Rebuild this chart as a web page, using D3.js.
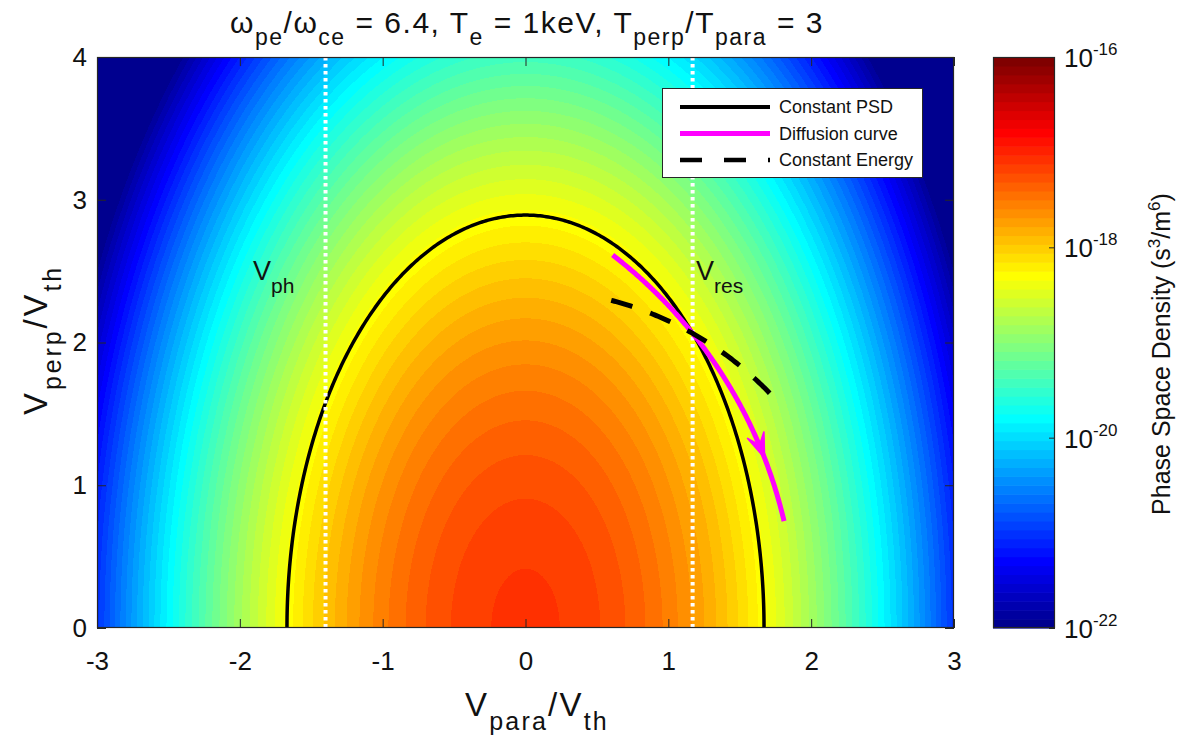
<!DOCTYPE html>
<html>
<head>
<meta charset="utf-8">
<script src="https://cdn.jsdelivr.net/npm/d3@7"></script>
<style>
  html, body { margin: 0; padding: 0; background: #fff; }
  svg { display: block; font-family: "Liberation Sans", Arial, Helvetica, sans-serif; }
</style>
</head>
<body>
<svg id="chart" width="1186" height="742"></svg>
<script>
// ---- axis ticks and ranges ----
const xTicks = [-3, -2, -1, 0, 1, 2, 3];
const yTicks = [0, 1, 2, 3, 4];
const xDomain = [-3, 3];
const yDomain = [0, 4];

// ---- colour bar (log10 of phase space density, s^3/m^6) ----
const psdLogRange = [-22, -16];
const psdTickExponents = [-16, -18, -20, -22];

// ---- bi-Maxwellian distribution parameters ----
const psdPeakLog10 = -17.1;   // log10 f at v = 0
const thetaPara = 1.0;        // parallel thermal width (units of V_th)
const tempAnisotropy = 3;     // T_perp / T_para

// ---- resonance geometry ----
const vPhase = -1.40;              // wave phase velocity
const vResonance = 1.17;           // resonant parallel velocity
const psdContourVpara = 1.67;      // constant-PSD contour meets v_perp = 0 here
const diffusionVparaRange = [0.61, 1.81];
const energyVparaRange = [0.60, 1.77];
const arrowTipVperp = 1.19;

const legendLabels = ["Constant PSD", "Diffusion curve", "Constant Energy"];

// ---- layout ----
const svg = d3.select("#chart");
const plot = { left: 97, right: 954, top: 57, bottom: 628 };
const cbar = { left: 993, right: 1055 };
const ink = "#262626";

const x = d3.scaleLinear().domain(xDomain).range([plot.left, plot.right]);
const y = d3.scaleLinear().domain(yDomain).range([plot.bottom, plot.top]);

// MATLAB-style jet colormap with 64 entries
function jet64() {
  const u = j => (j >= 1 && j <= 16) ? j / 16 : (j >= 17 && j <= 31) ? 1 : (j >= 32 && j <= 47) ? (48 - j) / 16 : 0;
  const out = [];
  for (let i = 0; i < 64; i++) {
    const r = u(i - 23), g = u(i - 7), b = u(i + 9);
    out.push(d3.rgb(r * 255, g * 255, b * 255).formatHex());
  }
  return out;
}
const jetColors = jet64();
const color = d3.scaleQuantize().domain(psdLogRange).range(jetColors);

// log10 of the bi-Maxwellian phase space density
const thetaPerp = thetaPara * Math.sqrt(tempAnisotropy);
function psdLog10(vpar, vperp) {
  return psdPeakLog10 - (vpar * vpar / (thetaPara * thetaPara) + vperp * vperp / (thetaPerp * thetaPerp)) * Math.LOG10E;
}

// ---- heat map raster ----
const W = plot.right - plot.left, H = plot.bottom - plot.top;
const canvas = document.createElement("canvas");
canvas.width = W; canvas.height = H;
const ctx = canvas.getContext("2d");
const img = ctx.createImageData(W, H);
for (let py = 0; py < H; py++) {
  const vperp = y.invert(plot.top + py + 0.5);
  for (let px = 0; px < W; px++) {
    const vpar = x.invert(plot.left + px + 0.5);
    const c = d3.rgb(color(psdLog10(vpar, vperp)));
    const k = (py * W + px) * 4;
    img.data[k] = c.r; img.data[k + 1] = c.g; img.data[k + 2] = c.b; img.data[k + 3] = 255;
  }
}
ctx.putImageData(img, 0, 0);
svg.append("image")
  .attr("x", plot.left).attr("y", plot.top)
  .attr("width", W).attr("height", H)
  .attr("preserveAspectRatio", "none")
  .attr("href", canvas.toDataURL());

const line = d3.line().x(d => x(d[0])).y(d => y(d[1]));

// constant PSD contour (ellipse)
const semiPerp = psdContourVpara * Math.sqrt(tempAnisotropy);
const ellipsePts = d3.range(0, 361).map(i => {
  const t = Math.PI * i / 360;
  return [psdContourVpara * Math.cos(t), semiPerp * Math.sin(t)];
});
svg.append("path").attr("d", line(ellipsePts))
  .attr("fill", "none").attr("stroke", "#000").attr("stroke-width", 3.5);

// V_ph and V_res dotted guides
svg.selectAll("line.guide").data([vPhase, vResonance]).join("line")
  .attr("class", "guide")
  .attr("x1", d => x(d)).attr("x2", d => x(d))
  .attr("y1", y(yDomain[1])).attr("y2", y(yDomain[0]))
  .attr("stroke", "#fff").attr("stroke-width", 4)
  .attr("stroke-dasharray", "3.5 3.5");

// resonance point on the constant PSD contour
const vperpRes = semiPerp * Math.sqrt(1 - (vResonance / psdContourVpara) ** 2);

// diffusion curve: circle centred on the phase velocity
const rDiff = Math.hypot(vResonance - vPhase, vperpRes);
const a0 = Math.acos((diffusionVparaRange[0] - vPhase) / rDiff);
const a1 = Math.acos((diffusionVparaRange[1] - vPhase) / rDiff);
const diffPts = d3.range(0, 201).map(i => {
  const a = a0 + (a1 - a0) * i / 200;
  return [vPhase + rDiff * Math.cos(a), rDiff * Math.sin(a)];
});
svg.append("path").attr("d", line(diffPts))
  .attr("fill", "none").attr("stroke", "#ff00ff").attr("stroke-width", 5);

// arrow head on the diffusion curve
{
  const tipA = Math.asin(arrowTipVperp / rDiff);
  const tip = [x(vPhase + rDiff * Math.cos(tipA)), y(rDiff * Math.sin(tipA))];
  const dx = Math.sin(tipA), dy = Math.cos(tipA); // pixel direction of travel
  const L = 25, Wd = 9, notch = 14;
  const nx = -dy, ny = dx;
  const back = [tip[0] - dx * L, tip[1] - dy * L];
  const p1 = [back[0] + nx * Wd, back[1] + ny * Wd];
  const p2 = [back[0] - nx * Wd, back[1] - ny * Wd];
  const pn = [tip[0] - dx * notch, tip[1] - dy * notch];
  svg.append("path")
    .attr("d", `M${tip}L${p1}L${pn}L${p2}Z`)
    .attr("fill", "#ff00ff").attr("stroke", "#ff00ff").attr("stroke-width", 1.5)
    .attr("stroke-linejoin", "miter");
}

// constant energy arc
const rEnergy = Math.hypot(vResonance, vperpRes);
const energyPts = d3.range(0, 101).map(i => {
  const vp = energyVparaRange[0] + (energyVparaRange[1] - energyVparaRange[0]) * i / 100;
  return [vp, Math.sqrt(rEnergy * rEnergy - vp * vp)];
});
svg.append("path").attr("d", line(energyPts))
  .attr("fill", "none").attr("stroke", "#000").attr("stroke-width", 5)
  .attr("stroke-dasharray", "22 19");

// text with sub/superscripts
function richText(sel, parts, size, subSize, subShift) {
  let prev = 0;
  parts.forEach(p => {
    const t = sel.append("tspan").text(p.t);
    const off = p.sub ? subShift : (p.sup ? -subShift : 0);
    t.attr("font-size", off ? subSize : size).attr("dy", off - prev);
    prev = off;
  });
  return sel;
}
// spread a text run so that it spans the given width
function spread(sel, width) {
  const node = sel.node();
  const n = node.textContent.length;
  const w = node.getBBox().width;
  sel.attr("letter-spacing", Math.max(0, (width - w) / n).toFixed(2));
  return sel;
}

svg.append("text").attr("x", 253).attr("y", 280).attr("fill", "#111")
  .call(s => richText(s, [{ t: "V" }, { t: "ph", sub: true }], 27, 21, 13));
svg.append("text").attr("x", 696).attr("y", 280).attr("fill", "#111")
  .call(s => richText(s, [{ t: "V" }, { t: "res", sub: true }], 27, 21, 13));

// ---- legend ----
const lg = svg.append("g");
lg.append("rect").attr("x", 662.5).attr("y", 88.5).attr("width", 260).attr("height", 89)
  .attr("fill", "#fff").attr("stroke", ink).attr("stroke-width", 1);
const legendStyles = [
  { stroke: "#000", w: 4, dash: null },
  { stroke: "#ff00ff", w: 5, dash: null },
  { stroke: "#000", w: 4.5, dash: "22 22" }
];
const legendRows = [107, 133.5, 160];
legendLabels.forEach((lab, i) => {
  lg.append("line").attr("x1", 680).attr("x2", 770)
    .attr("y1", legendRows[i]).attr("y2", legendRows[i])
    .attr("stroke", legendStyles[i].stroke).attr("stroke-width", legendStyles[i].w)
    .attr("stroke-dasharray", legendStyles[i].dash);
  lg.append("text").attr("x", 779).attr("y", legendRows[i]).attr("dy", "0.35em")
    .attr("font-size", 18).attr("fill", "#111").text(lab);
});

// ---- axes ----
const axFont = 26;
const gx = svg.append("g").attr("transform", `translate(0,${plot.bottom})`)
  .call(d3.axisBottom(x).tickValues(xTicks).tickSizeInner(-9).tickSizeOuter(0).tickPadding(24).tickFormat(d3.format("d")));
const gxt = svg.append("g").attr("transform", `translate(0,${plot.top})`)
  .call(d3.axisTop(x).tickValues(xTicks).tickSizeInner(-9).tickSizeOuter(0).tickFormat(""));
const gy = svg.append("g").attr("transform", `translate(${plot.left},0)`)
  .call(d3.axisLeft(y).tickValues(yTicks).tickSizeInner(-9).tickSizeOuter(0).tickPadding(10).tickFormat(d3.format("d")));
const gyr = svg.append("g").attr("transform", `translate(${plot.right},0)`)
  .call(d3.axisRight(y).tickValues(yTicks).tickSizeInner(-9).tickSizeOuter(0).tickFormat(""));
[gx, gxt, gy, gyr].forEach(g => {
  g.select(".domain").remove();
  g.selectAll(".tick line").attr("stroke", ink).attr("stroke-width", 1);
  g.selectAll(".tick text").attr("fill", "#111").attr("font-size", axFont)
    .attr("font-family", "Liberation Sans, Arial, sans-serif");
});
gx.selectAll(".tick text").text(d => d < 0 ? "-" + Math.abs(d) : d);
svg.append("rect").attr("x", plot.left + 0.5).attr("y", plot.top + 0.5)
  .attr("width", W - 1).attr("height", H - 1)
  .attr("fill", "none").attr("stroke", ink).attr("stroke-width", 1.2);

// axis titles
svg.append("text").attr("text-anchor", "middle").attr("x", 537).attr("y", 716).attr("fill", "#111")
  .call(s => richText(s, [{ t: "V" }, { t: "para", sub: true }, { t: "/V" }, { t: "th", sub: true }], 33, 25, 14))
  .call(s => spread(s, 144));
svg.append("text").attr("text-anchor", "middle")
  .attr("transform", `translate(47,340) rotate(-90)`).attr("fill", "#111")
  .call(s => richText(s, [{ t: "V" }, { t: "perp", sub: true }, { t: "/V" }, { t: "th", sub: true }], 33, 25, 14))
  .call(s => spread(s, 150));

// title
svg.append("text").attr("text-anchor", "middle").attr("x", 527).attr("y", 33).attr("fill", "#111")
  .call(s => richText(s, [
    { t: "ω" }, { t: "pe", sub: true }, { t: "/ω" }, { t: "ce", sub: true },
    { t: " = 6.4, T" }, { t: "e", sub: true }, { t: " = 1keV, T" }, { t: "perp", sub: true },
    { t: "/T" }, { t: "para", sub: true }, { t: " = 3" }
  ], 30, 23, 12))
  .call(s => spread(s, 594));

// ---- colour bar ----
const cy = d3.scaleLinear().domain(psdLogRange).range([plot.bottom, plot.top]);
const step = (psdLogRange[1] - psdLogRange[0]) / jetColors.length;
svg.append("g").selectAll("rect").data(jetColors).join("rect")
  .attr("x", cbar.left).attr("width", cbar.right - cbar.left)
  .attr("y", (d, i) => cy(psdLogRange[0] + (i + 1) * step))
  .attr("height", (d, i) => cy(psdLogRange[0] + i * step) - cy(psdLogRange[0] + (i + 1) * step) + 0.6)
  .attr("fill", d => d);
const gc = svg.append("g").attr("transform", `translate(${cbar.right},0)`)
  .call(d3.axisLeft(cy).tickValues(psdTickExponents).tickSizeInner(6).tickSizeOuter(0).tickFormat(""));
gc.select(".domain").remove();
gc.selectAll(".tick line").attr("stroke", ink);
svg.append("rect").attr("x", cbar.left + 0.5).attr("y", plot.top + 0.5)
  .attr("width", cbar.right - cbar.left - 1).attr("height", H - 1)
  .attr("fill", "none").attr("stroke", ink).attr("stroke-width", 1.2);
svg.append("g").selectAll("text").data(psdTickExponents).join("text")
  .attr("x", 1064).attr("y", d => cy(d) + 10).attr("fill", "#111")
  .each(function (d) {
    richText(d3.select(this), [{ t: "10" }, { t: String(d), sup: true }], 26, 17, 12);
  });
svg.append("text").attr("text-anchor", "middle")
  .attr("transform", `translate(1170,354) rotate(-90)`).attr("fill", "#111")
  .call(s => richText(s, [
    { t: "Phase Space Density (s" }, { t: "3", sup: true }, { t: "/m" }, { t: "6", sup: true }, { t: ")" }
  ], 25, 17, 10));
</script>
</body>
</html>
